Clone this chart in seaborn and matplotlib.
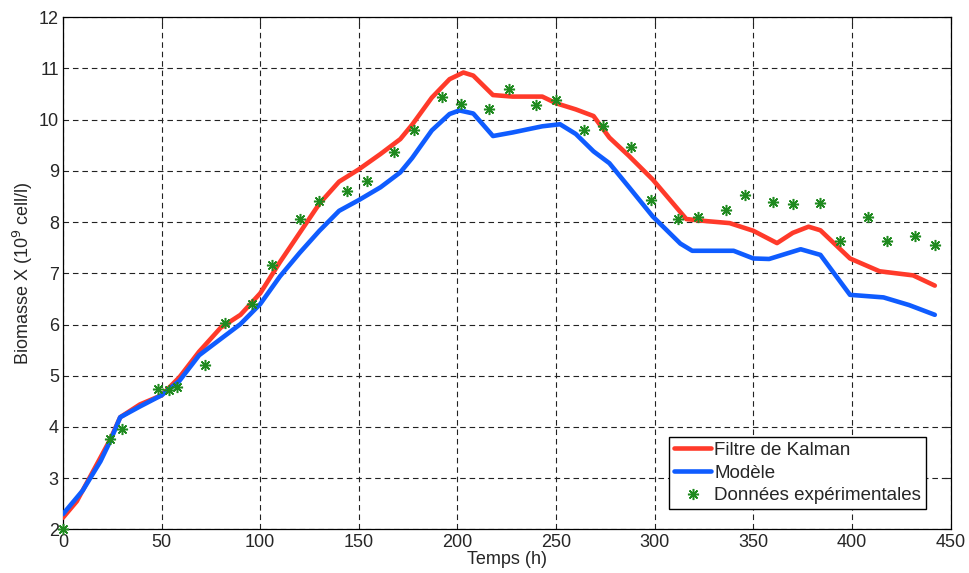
import matplotlib
matplotlib.use("Agg")
import matplotlib.pyplot as plt
import numpy as np
import pandas as pd
import seaborn as sns

# values
t_kalman = [0, 7, 17, 24, 29, 39, 50, 59, 69, 80, 90, 100, 110, 120, 130, 140, 150, 161,
            171, 177, 187, 196, 203, 208, 218, 228, 243, 250, 260, 269, 277, 287, 299,
            316, 323, 338, 350, 362, 370, 378, 384, 399, 414, 431, 442]
x_kalman = [2.23, 2.55, 3.26, 3.76, 4.19, 4.44, 4.62, 4.97, 5.47, 5.94, 6.19, 6.61, 7.22,
            7.79, 8.36, 8.79, 9.03, 9.33, 9.62, 9.90, 10.43, 10.79, 10.92, 10.86, 10.48,
            10.45, 10.45, 10.32, 10.20, 10.07, 9.65, 9.29, 8.83, 8.06, 8.03, 7.98, 7.83,
            7.59, 7.79, 7.91, 7.84, 7.29, 7.04, 6.96, 6.76]

t_model = [0, 10, 19, 24, 29, 39, 50, 59, 69, 80, 90, 100, 110, 120, 130, 140, 150, 161,
           171, 177, 187, 196, 201, 208, 218, 228, 243, 252, 260, 269, 277, 287, 299,
           313, 319, 340, 350, 358, 374, 384, 399, 416, 429, 442]
x_model = [2.30, 2.76, 3.33, 3.73, 4.19, 4.40, 4.62, 4.90, 5.40, 5.72, 6.01, 6.40, 6.94,
           7.40, 7.83, 8.22, 8.43, 8.68, 8.97, 9.25, 9.79, 10.11, 10.18, 10.12, 9.68,
           9.75, 9.87, 9.91, 9.72, 9.38, 9.15, 8.68, 8.11, 7.58, 7.44, 7.44, 7.29, 7.28,
           7.47, 7.36, 6.58, 6.53, 6.38, 6.19]

t_data = [0, 24, 30, 48, 54, 58, 72, 82, 96, 106, 120, 130, 144, 154, 168, 178, 192, 202,
          216, 226, 240, 250, 264, 274, 288, 298, 312, 322, 336, 346, 360, 370, 384, 394,
          408, 418, 432, 442]
x_data = [2.00, 3.77, 3.96, 4.75, 4.72, 4.79, 5.22, 6.03, 6.40, 7.17, 8.06, 8.41, 8.60,
          8.81, 9.37, 9.80, 10.44, 10.31, 10.20, 10.59, 10.28, 10.39, 9.79, 9.88, 9.47,
          8.43, 8.06, 8.10, 8.23, 8.53, 8.39, 8.36, 8.38, 7.64, 8.10, 7.63, 7.73, 7.56]

sns.set_style("white")
plt.rcParams["font.family"] = ["Liberation Sans", "DejaVu Sans"]
plt.rcParams["font.size"] = 13

fig = plt.figure(figsize=(9.69, 5.73), dpi=100)
ax = fig.add_axes([0.065, 0.076, 0.916, 0.894])

df_k = pd.DataFrame({"t": t_kalman, "x": x_kalman})
df_m = pd.DataFrame({"t": t_model, "x": x_model})
df_d = pd.DataFrame({"t": t_data, "x": x_data})

sns.lineplot(data=df_k, x="t", y="x", ax=ax, color="#ff3a2a", linewidth=3.3,
             label="Filtre de Kalman", sort=False, zorder=3)
sns.lineplot(data=df_m, x="t", y="x", ax=ax, color="#0f5cff", linewidth=3.3,
             label="Modèle", sort=False, zorder=4)
ax.plot(df_d["t"], df_d["x"], linestyle="none", marker=(8, 2, 0), markersize=8,
        markeredgewidth=1.1, color="#1f8a1f", label="Données expérimentales",
        zorder=5, clip_on=False)

ax.set_xlim(0, 450)
ax.set_ylim(2, 12)
ax.set_xticks(np.arange(0, 451, 50))
ax.set_yticks(np.arange(2, 13, 1))
ax.grid(True, color="#222222", linestyle=(0, (5, 3.5)), linewidth=0.8)
ax.tick_params(direction="in", length=5, top=True, right=True, labelsize=13, pad=3)
for s in ax.spines.values():
    s.set_color("black")
    s.set_linewidth(0.9)

ax.set_xlabel("Temps (h)", fontsize=13, labelpad=0)
ax.set_ylabel(r"Biomasse X (10$^{9}$ cell/l)", fontsize=13, labelpad=3)

leg = ax.legend(loc="lower right", bbox_to_anchor=(0.972, 0.04), fontsize=13.5,
                frameon=True, fancybox=False, edgecolor="black", framealpha=1,
                handlelength=2.0, handletextpad=0.15, borderpad=0.25, labelspacing=0.3,
                borderaxespad=0)
leg.get_frame().set_linewidth(1.0)

fig.savefig("out.png", dpi=100)
